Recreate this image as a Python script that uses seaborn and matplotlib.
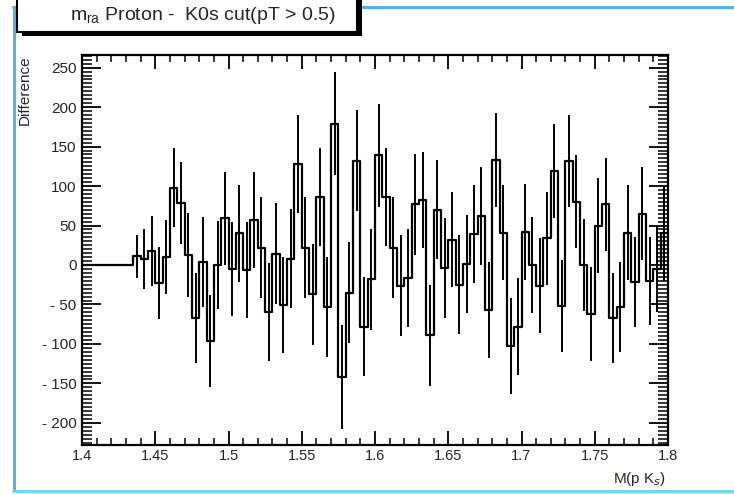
import numpy as np
import pandas as pd
import matplotlib
matplotlib.use("Agg")
import matplotlib.pyplot as plt
from matplotlib.patches import Rectangle
from matplotlib.lines import Line2D
from matplotlib.ticker import MultipleLocator, FixedLocator, FixedFormatter
import seaborn as sns

# Binning of the invariant-mass histogram
x_min, x_max, n_bins = 1.4, 1.8, 80

# Bin contents (signal minus background) and their errors, bins 0..79
difference = [
    0, 0, 0, 0, 0, 0, 0,
    11, 7, 18, -23, 10, 98, 78, 13, -67, 4,
    -96, 0, 59, -5, 40, -6, 57, 22, -60, 14,
    -51, 8, 128, 22, -37, 86, -53, 179, -142, -35,
    132, -78, -18, 139, 86, 22, -26, -16, 77, 82,
    -89, 70, -4, 32, -25, 1, 39, 62, -57, 133,
    41, -103, -78, 42, 0, -26, 34, 119, -52, 132,
    80, 0, -62, 50, 77, -67, -53, 41, -21, 65,
    -20, -5, 40,
]
errors = [
    0, 0, 0, 0, 0, 0, 0,
    27, 38, 44, 46, 47, 50, 52, 53, 57, 57,
    58, 56, 59, 60, 61, 61, 61, 64, 62, 64,
    61, 63, 62, 64, 64, 62, 63, 65, 66, 64,
    64, 63, 64, 65, 62, 64, 64, 62, 64, 61,
    64, 63, 63, 60, 63, 62, 62, 62, 61, 59,
    60, 61, 61, 61, 61, 60, 59, 60, 58, 58,
    59, 58, 60, 60, 59, 57, 57, 60, 57, 59,
    56, 55, 60,
]

x_ticks = [1.4, 1.45, 1.5, 1.55, 1.6, 1.65, 1.7, 1.75, 1.8]
x_tick_labels = ["1.4", "1.45", "1.5", "1.55", "1.6", "1.65", "1.7", "1.75", "1.8"]
y_ticks = [250, 200, 150, 100, 50, 0, -50, -100, -150, -200]
y_tick_labels = ["250", "200", "150", "100", "50", "0", "- 50", "- 100", "- 150", "- 200"]

title_text = r"m$_{\rm ra}$ Proton -  K0s cut(pT > 0.5)"
x_title = r"M(p K$_{s}$)"
y_title = "Difference"

W, H = 734, 494
sns.set_theme(style="white")
plt.rcParams["font.family"] = ["Liberation Sans", "DejaVu Sans"]
plt.rcParams["mathtext.fontset"] = "custom"
plt.rcParams["mathtext.rm"] = "Liberation Sans"

fig = plt.figure(figsize=(W / 100, H / 100), dpi=100)
fig.patch.set_facecolor("white")


def fx(px):
    return px / W


def fy(py):
    return 1 - py / H


ax_l, ax_r, ax_t, ax_b = 82, 668, 55, 445
ax = fig.add_axes([fx(ax_l), fy(ax_b), fx(ax_r - ax_l), (ax_b - ax_t) / H])
ax.set_facecolor("white")

edges = np.linspace(x_min, x_max, n_bins + 1)
centers = 0.5 * (edges[:-1] + edges[1:])
df = pd.DataFrame({"mass": centers, "difference": difference, "error": errors})

# Histogram outline: each bin content held from its lower edge to the next edge
steps = pd.DataFrame({"edge": edges,
                      "content": list(difference) + [difference[-1]]})
sns.lineplot(data=steps, x="edge", y="content", drawstyle="steps-post",
             estimator=None, sort=False, color="black", linewidth=1.6, ax=ax)

filled = df[df["error"] > 0]
ax.errorbar(filled["mass"], filled["difference"], yerr=filled["error"],
            fmt="none", ecolor="black", elinewidth=1.4, capsize=0)

ax.set_xlim(x_min, x_max)
ax.set_ylim(-228, 266)
ax.set_xlabel("")
ax.set_ylabel("")

ax.xaxis.set_major_locator(FixedLocator(x_ticks))
ax.xaxis.set_major_formatter(FixedFormatter(x_tick_labels))
ax.xaxis.set_minor_locator(MultipleLocator(0.01))
ax.yaxis.set_major_locator(FixedLocator(y_ticks))
ax.yaxis.set_major_formatter(FixedFormatter(y_tick_labels))
ax.yaxis.set_minor_locator(MultipleLocator(5))

ax.tick_params(axis="both", which="both", direction="in", color="black",
               top=True, right=True, bottom=True, left=True)
ax.tick_params(axis="x", which="major", length=10, width=1.3, labelsize=10.5, pad=3)
ax.tick_params(axis="x", which="minor", length=5, width=1.1)
ax.tick_params(axis="y", which="major", length=14, width=1.3, labelsize=11, pad=4)
ax.tick_params(axis="y", which="minor", length=7, width=1.1)
for spine in ax.spines.values():
    spine.set_visible(True)
    spine.set_color("black")
    spine.set_linewidth(1.6)

# Axis titles
fig.text(fx(25), fy(ax_t), y_title, rotation=90, ha="center", va="top", fontsize=11)
fig.text(fx(666), fy(479), x_title, ha="right", va="center", fontsize=11)

# Title box with drop shadow
bx0, bx1, by0, by1 = 17, 357, -6, 32
shadow = Rectangle((fx(bx0 + 5), fy(by1 + 4)), fx(bx1 - bx0), (by1 - by0) / H,
                   transform=fig.transFigure, facecolor="black", edgecolor="none", zorder=5)
box = Rectangle((fx(bx0), fy(by1)), fx(bx1 - bx0), (by1 - by0) / H,
                transform=fig.transFigure, facecolor="white", edgecolor="black",
                linewidth=1.5, zorder=6)
fig.patches.extend([shadow, box])
fig.text(fx(203), fy(15), title_text, ha="center", va="center", fontsize=14, zorder=7)

# Pad frame
frame_top = "#55b2ee"
frame_bottom = "#62e2f0"
fig.lines.extend([
    Line2D([fx(13.5), fx(13.5)], [fy(7), fy(491)], transform=fig.transFigure,
           color=frame_top, linewidth=2.2),
    Line2D([fx(13), 1.0], [fy(7), fy(7)], transform=fig.transFigure,
           color=frame_top, linewidth=2.2),
    Line2D([fx(13), 1.0], [fy(491), fy(491)], transform=fig.transFigure,
           color=frame_bottom, linewidth=2.2),
])

fig.savefig("out.png", dpi=100, facecolor="white")
